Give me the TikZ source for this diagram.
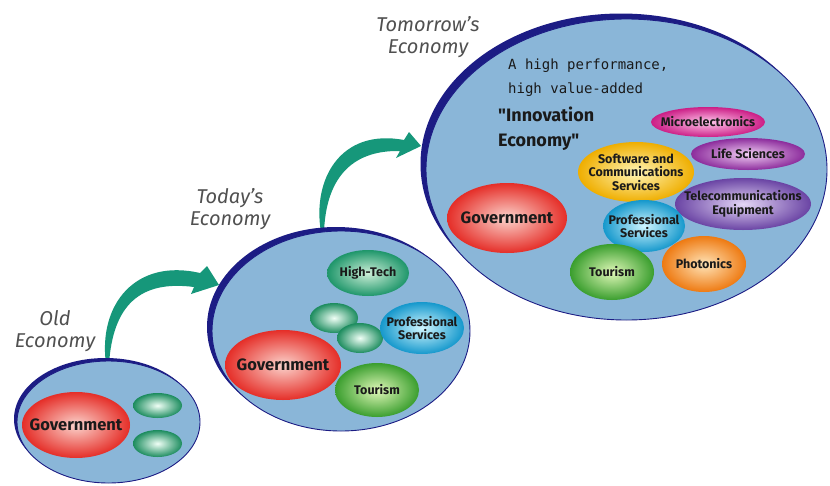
\documentclass[tikz,border=0pt]{standalone}
\usepackage{fontspec}
\setmainfont{Fira Sans}
\newfontfamily\typefont{DejaVu Sans Mono}
\newfontfamily\innovfont[Ligatures=TeXOff]{Fira Sans}
\usetikzlibrary{shapes.geometric}
\definecolor{econblue}{HTML}{8AB6D8}
\definecolor{rimnavy}{HTML}{1C1C84}
\definecolor{arrowteal}{HTML}{16977A}
\definecolor{captiongray}{HTML}{505050}
\definecolor{labelink}{HTML}{1A1A1A}
\begin{document}
\begin{tikzpicture}[x=1pt,y=-1pt,
  rim/.style={ellipse,fill=rimnavy,inner sep=0},
  econ/.style={ellipse,fill=econblue,draw=rimnavy,line width=0.9pt,inner sep=0},
  blob/.style={ellipse,inner sep=0},
  lbl/.style={font=\bfseries\fontsize{12.5}{13.5}\selectfont,text=labelink,inner sep=0,align=center},
  govlbl/.style={font=\bfseries\fontsize{16.5}{18}\selectfont,text=labelink,inner sep=0},
  capt/.style={font=\itshape\fontsize{20}{22}\selectfont,text=captiongray,align=center,inner sep=0},
  arrowband/.style={fill=arrowteal},
  govb/.style={blob,inner color={rgb,255:red,251;green,211;blue,204},outer color={rgb,255:red,229;green,46;blue,40}},
  greenb/.style={blob,inner color={rgb,255:red,240;green,255;blue,246},outer color={rgb,255:red,28;green,140;blue,94}},
  techb/.style={blob,inner color={rgb,255:red,205;green,239;blue,216},outer color={rgb,255:red,30;green,150;blue,106}},
  cyanb/.style={blob,inner color={rgb,255:red,208;green,246;blue,255},outer color={rgb,255:red,21;green,152;blue,204}},
  tourb/.style={blob,inner color={rgb,255:red,224;green,248;blue,184},outer color={rgb,255:red,58;green,158;blue,46}},
  magb/.style={blob,inner color={rgb,255:red,255;green,200;blue,236},outer color={rgb,255:red,204;green,30;blue,134}},
  purpb/.style={blob,inner color={rgb,255:red,242;green,207;blue,245},outer color={rgb,255:red,140;green,44;blue,156}},
  yelb/.style={blob,inner color={rgb,255:red,255;green,246;blue,184},outer color={rgb,255:red,239;green,174;blue,0}},
  violb/.style={blob,inner color={rgb,255:red,228;green,214;blue,246},outer color={rgb,255:red,106;green,68;blue,164}},
  orgb/.style={blob,inner color={rgb,255:red,255;green,228;blue,184},outer color={rgb,255:red,238;green,122;blue,18}}
]
\useasboundingbox (0,0) rectangle (830,485);

% arrows
\fill[arrowband] (106,364) .. controls (98,305) and (135,258) .. (200,273) -- (207,266) -- (219,285) -- (191,294) -- (194,287) .. controls (140,280) and (113,305) .. (109,364) -- cycle;
\fill[arrowband] (321,232) .. controls (312,180) and (340,128) .. (404,140) -- (409,132) -- (421,146) -- (396,158) -- (400,151) .. controls (350,150) and (326,180) .. (324,232) -- cycle;

% old economy
\node[rim,minimum width=183pt,minimum height=122pt] (oldrim) at (105.5,419) {};
\node[econ,minimum width=183pt,minimum height=122pt] (old) at (108.5,422) {};
\node[govb,minimum width=108pt,minimum height=66pt,label={[govlbl]center:Government}] (oldgov) at (76,425) {};
\node[greenb,minimum width=49pt,minimum height=25pt] (oldg1) at (157.5,405.5) {};
\node[greenb,minimum width=49pt,minimum height=27pt] (oldg2) at (157.5,443.5) {};
\node[capt] (oldcap) at (55,331) {Old\\Economy};

% today's economy
\node[rim,minimum width=258pt,minimum height=200pt] (todayrim) at (336,327) {};
\node[econ,minimum width=258pt,minimum height=200pt] (today) at (341,331) {};
\node[govb,minimum width=116pt,minimum height=70pt,label={[govlbl]center:Government}] (todaygov) at (283,365) {};
\node[techb,minimum width=82pt,minimum height=46pt,label={[lbl]center:High-Tech}] (todaytech) at (368,273) {};
\node[greenb,minimum width=48pt,minimum height=30pt] (todayg1) at (334,318) {};
\node[greenb,minimum width=46pt,minimum height=30pt] (todayg2) at (360,338) {};
\node[cyanb,minimum width=84pt,minimum height=52pt,label={[lbl]center:Professional\\Services}] (todayprof) at (422,328) {};
\node[tourb,minimum width=84pt,minimum height=54pt,label={[lbl]center:Tourism}] (todaytour) at (377,390) {};
\node[capt] (todaycap) at (230,209) {Today's\\Economy};

% tomorrow's economy
\node[rim,minimum width=401pt,minimum height=301pt] (tomrim) at (621,164) {};
\node[econ,minimum width=401pt,minimum height=301pt] (tom) at (626.5,169.5) {};
\node[govb,minimum width=120pt,minimum height=70pt,label={[govlbl]center:Government}] (tomgov) at (507,218) {};
\node[magb,minimum width=114pt,minimum height=30pt,label={[lbl]center:Microelectronics}] (micro) at (708,122) {};
\node[purpb,minimum width=114pt,minimum height=32pt,label={[lbl]center:Life Sciences}] (life) at (748,154) {};
\node[yelb,minimum width=116pt,minimum height=60pt,label={[lbl]center:Software and\\Communications\\Services}] (soft) at (636,172) {};
\node[violb,minimum width=136pt,minimum height=52pt,label={[lbl]center:Telecommunications\\Equipment}] (telecom) at (743,204) {};
\node[cyanb,minimum width=82pt,minimum height=52pt,label={[lbl]center:Professional\\Services}] (tomprof) at (644,226) {};
\node[tourb,minimum width=84pt,minimum height=56pt,label={[lbl]center:Tourism}] (tomtour) at (612,272) {};
\node[orgb,minimum width=84pt,minimum height=56pt,label={[lbl]center:Photonics}] (photon) at (704,264) {};
\node[capt] (tomcap) at (428,37) {Tomorrow's\\Economy};
\node[anchor=north west,font=\typefont\fontsize{14}{24}\selectfont,align=left,inner sep=0,text=labelink] (tagline) at (508,59) {A high performance,\\high value-added};
\node[anchor=north west,font=\innovfont\bfseries\fontsize{18}{25}\selectfont,align=left,inner sep=0,text=labelink] (innov) at (498,107) {"Innovation\\Economy"};
\end{tikzpicture}
\end{document}
